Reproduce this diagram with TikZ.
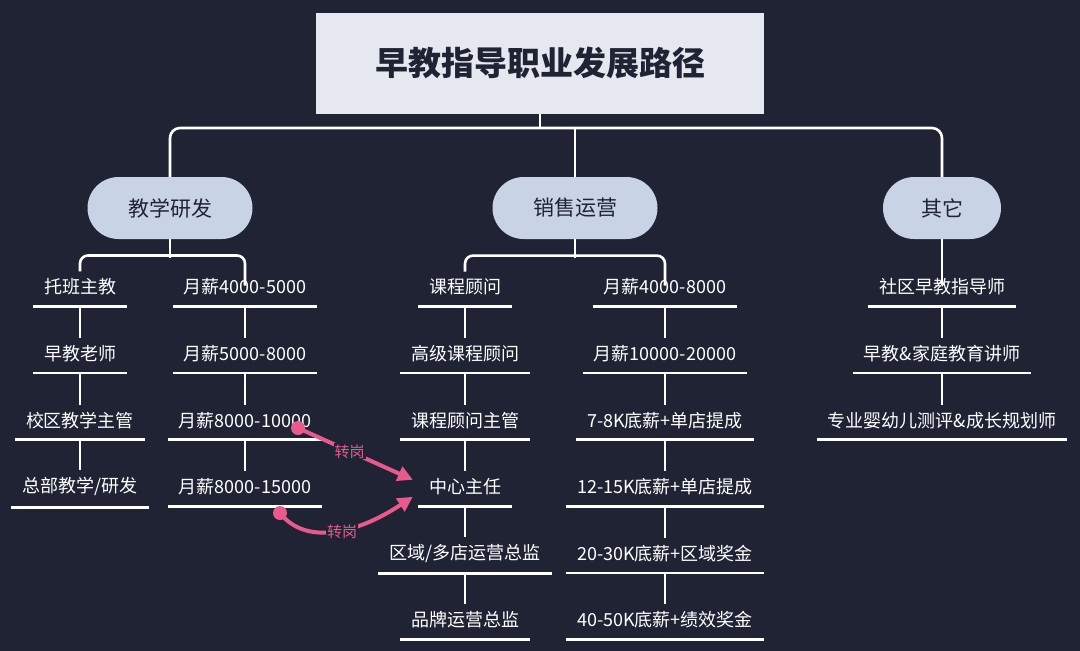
\documentclass[tikz,border=0pt]{standalone}
\usepackage{fontspec}
\setmainfont{Noto Sans CJK SC}
\usetikzlibrary{arrows.meta}
\definecolor{bg}{HTML}{1F2334}
\definecolor{ttl}{HTML}{E5E8EE}
\definecolor{pill}{HTML}{C9D3E6}
\definecolor{pk}{HTML}{E85A8C}
\tikzset{
  ln/.style={white,line width=2.6pt},
  item/.style={text=white,font=\fontsize{18}{21}\selectfont,inner sep=0pt},
  pl/.style={fill=pill,rounded corners=31pt,minimum height=62pt,font=\fontsize{21}{24}\selectfont,text=bg},
  pkarr/.style={pk,line width=4pt,-{Triangle[length=15pt,width=15pt]}},
  pklab/.style={text=pk,font=\fontsize{15}{17}\selectfont,fill=bg,inner sep=1pt}
}
\begin{document}
\begin{tikzpicture}[x=1pt,y=-1pt]
\fill[bg] (0,0) rectangle (1080,651);
\useasboundingbox (0,0) rectangle (1080,651);
\node[fill=ttl,minimum width=448pt,minimum height=101pt,font=\fontsize{33}{38}\selectfont\bfseries,text=bg] (title) at (540,63) {早教指导职业发展路径};
\node[pl,minimum width=165pt] (c1) at (170,208) {教学研发};
\node[pl,minimum width=165pt] (c2) at (575,208) {销售运营};
\node[pl,minimum width=118pt] (c3) at (942,208) {其它};
\coordinate (bus) at (540,128);
\draw[ln] (title.south) -- (bus);
\draw[ln,rounded corners=10pt] (c1.north) -- (170,128) -- (942,128) -- (c3.north);
\draw[ln] (575,128) -- (c2.north);
\foreach \pre/\x/\lst in {
 a/80/{托班主教,早教老师,校区教学主管,总部教学/研发},
 b/245/{月薪4000-5000,月薪5000-8000,月薪8000-10000,月薪8000-15000},
 s/465/{课程顾问,高级课程顾问,课程顾问主管,中心主任,区域/多店运营总监,品牌运营总监},
 t/665/{月薪4000-8000,月薪10000-20000,7-8K底薪+单店提成,12-15K底薪+单店提成,20-30K底薪+区域奖金,40-50K底薪+绩效奖金},
 o/942/{社区早教指导师,早教\&家庭教育讲师,专业婴幼儿测评\&成长规划师}}{
  \foreach \t [count=\i] in \lst {
    \pgfmathsetmacro{\yy}{287+66.6*(\i-1)}
    \node[item] (\pre\i) at (\x,\yy) {\t};
    \draw[ln] ([xshift=-11pt,yshift=-11pt]\pre\i.south west) -- ([xshift=11pt,yshift=-11pt]\pre\i.south east);
    \ifnum\i>1
      \pgfmathtruncatemacro{\j}{\i-1}
      \draw[ln] ([yshift=-11pt]\pre\j.south) -- ([yshift=7pt]\pre\i.north);
    \fi
  }
}
\draw[ln,rounded corners=8pt] (a1.north) ++(0,-7) -- ++(0,-16) -| ([yshift=-7pt]b1.north);
\draw[ln] (c1.south) -- (170,258);
\draw[ln,rounded corners=8pt] (s1.north) ++(0,-7) -- ++(0,-16) -| ([yshift=-7pt]t1.north);
\draw[ln] (c2.south) -- (575,258);
\draw[ln] (c3.south) -- ([yshift=-7pt]o1.north);
\coordinate (d1) at (298,428);
\coordinate (d2) at (280,513);
\fill[pk] (d1) circle (7pt);
\fill[pk] (d2) circle (7pt);
\draw[pkarr] (d1) -- ([xshift=-16pt,yshift=7pt]s4.west) node[pklab,pos=0.45] {转岗};
\draw[pkarr] (d2) .. controls (305,545) and (355,535) .. ([xshift=-16pt,yshift=-10pt]s4.west);
\node[pklab] at (342,532) {转岗};
\end{tikzpicture}
\end{document}
